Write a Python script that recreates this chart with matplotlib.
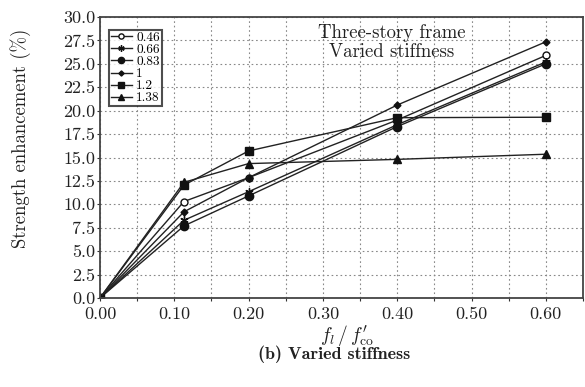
import matplotlib
matplotlib.use("Agg")
import matplotlib.pyplot as plt
from matplotlib.ticker import MultipleLocator, FormatStrFormatter

plt.rcParams["font.family"] = "serif"
plt.rcParams["font.serif"] = ["cmr10", "DejaVu Serif"]
plt.rcParams["mathtext.fontset"] = "cm"
plt.rcParams["axes.formatter.use_mathtext"] = True

# confinement ratio f_l / f'_co at which each frame was analysed
ratio = [0.0, 0.113, 0.2, 0.4, 0.6]

# strength enhancement (%) for each stiffness ratio
s046 = [0.0, 10.3, 12.85, 19.0, 25.9]
s066 = [0.0, 8.3, 11.35, 18.5, 25.2]
s083 = [0.0, 7.7, 10.9, 18.3, 25.0]
s100 = [0.0, 9.2, 12.85, 20.6, 27.35]
s120 = [0.0, 12.05, 15.7, 19.25, 19.3]
s138 = [0.0, 12.35, 14.35, 14.8, 15.35]

labels = ["0.46", "0.66", "0.83", "1", "1.2", "1.38"]
series = [s046, s066, s083, s100, s120, s138]
markers = [
    dict(marker="o", ms=5, mfc="white"),
    dict(marker=(6, 2, 0), ms=6),
    dict(marker="o", ms=6),
    dict(marker="D", ms=3.5),
    dict(marker="s", ms=5.5),
    dict(marker="^", ms=5.5),
]

fig = plt.figure(figsize=(5.85, 3.87), dpi=100)
ax = fig.add_axes([100 / 585, 1 - 298 / 387, 483 / 585, 281 / 387])

for lab, vals, mk in zip(labels, series, markers):
    ax.plot(ratio, vals, color="#222222", lw=1.0, mec="#111111",
            label=lab, **{"mfc": "#111111", **mk})

ax.set_xlim(0, 0.65)
ax.set_ylim(0, 30)
ax.xaxis.set_major_locator(MultipleLocator(0.1))
ax.xaxis.set_minor_locator(MultipleLocator(0.05))
ax.yaxis.set_major_locator(MultipleLocator(2.5))
ax.xaxis.set_major_formatter(FormatStrFormatter("%.2f"))
ax.yaxis.set_major_formatter(FormatStrFormatter("%.1f"))
ax.tick_params(axis="both", which="both", direction="out", length=2.5,
               width=0.8, labelsize=13, pad=1, colors="#333333")
ax.tick_params(axis="x", pad=3.5)
ax.tick_params(axis="both", labelcolor="#222222")
ax.grid(True, which="both", ls=(0, (1.5, 2.5)), color="#888888", lw=0.8)
ax.set_axisbelow(True)
for sp in ax.spines.values():
    sp.set_color("#444444")
    sp.set_linewidth(1.3)

ax.set_ylabel("Strength enhancement (%)", fontsize=13.5, color="#222222")
ax.yaxis.set_label_coords(-0.143, 0.57)
ax.set_xlabel(r"$f_l\,/\,f^{\prime}_{\mathrm{co}}$", fontsize=14,
              color="#222222")
ax.xaxis.set_label_coords(0.511, -0.088)

ax.text(0.392, 27.3, "Three-story frame\nVaried stiffness", ha="center",
        va="center", fontsize=13.5, linespacing=1.05, color="#222222")

leg = ax.legend(loc="upper left", bbox_to_anchor=(0.018, 0.955), fontsize=9.6,
                handlelength=1.6, handletextpad=0.3, labelspacing=-0.02,
                borderpad=0.15, borderaxespad=0, fancybox=False, frameon=True,
                markerscale=0.75)
leg.get_frame().set_edgecolor("#222222")
leg.get_frame().set_linewidth(1.5)

fig.text(334 / 585, 1 - 354 / 387, "(b) Varied stiffness", ha="center",
         va="center", fontsize=13, fontfamily="cmb10", color="#222222")

fig.savefig("out.png", dpi=100)
